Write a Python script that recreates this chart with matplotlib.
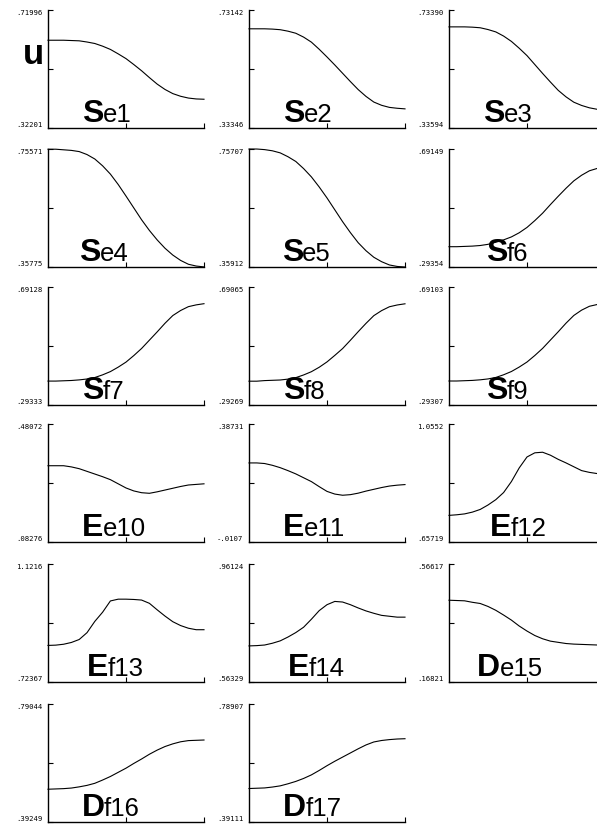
"""Seventeen small u-response panels laid out 3 across, as in the scanned figure."""

import matplotlib
matplotlib.use("Agg")  # headless
import matplotlib.pyplot as plt

# ------------------------------------------------------------------
# Data
# ------------------------------------------------------------------
x = [0.0, 0.05, 0.1, 0.15, 0.2, 0.25, 0.3, 0.35, 0.4, 0.45, 0.5,
     0.55, 0.6, 0.65, 0.7, 0.75, 0.8, 0.85, 0.9, 0.95, 1.0]

se1 = [0.618, 0.618, 0.618, 0.617, 0.616, 0.612, 0.607, 0.598, 0.587, 0.572, 0.556,
       0.536, 0.515, 0.492, 0.470, 0.452, 0.438, 0.429, 0.423, 0.420, 0.419]
se2 = [0.668, 0.668, 0.668, 0.667, 0.665, 0.660, 0.653, 0.640, 0.623, 0.599, 0.573,
       0.546, 0.518, 0.490, 0.463, 0.440, 0.421, 0.410, 0.403, 0.400, 0.398]
se3 = [0.677, 0.677, 0.677, 0.676, 0.674, 0.668, 0.660, 0.646, 0.628, 0.605, 0.580,
       0.550, 0.520, 0.491, 0.463, 0.441, 0.423, 0.412, 0.404, 0.399, 0.396]
se4 = [0.755, 0.755, 0.753, 0.751, 0.747, 0.737, 0.722, 0.699, 0.671, 0.636, 0.597,
       0.557, 0.517, 0.481, 0.449, 0.421, 0.398, 0.380, 0.367, 0.361, 0.358]
se5 = [0.757, 0.757, 0.755, 0.751, 0.744, 0.731, 0.715, 0.691, 0.663, 0.629, 0.592,
       0.552, 0.512, 0.475, 0.441, 0.414, 0.392, 0.377, 0.366, 0.361, 0.359]
sf6 = [0.362, 0.362, 0.363, 0.364, 0.366, 0.370, 0.377, 0.385, 0.395, 0.409, 0.427,
       0.450, 0.475, 0.504, 0.532, 0.559, 0.584, 0.603, 0.618, 0.626, 0.629]
sf7 = [0.374, 0.374, 0.375, 0.376, 0.378, 0.381, 0.386, 0.395, 0.406, 0.421, 0.438,
       0.460, 0.484, 0.512, 0.540, 0.569, 0.595, 0.612, 0.625, 0.631, 0.635]
sf8 = [0.373, 0.373, 0.375, 0.376, 0.377, 0.380, 0.385, 0.394, 0.405, 0.420, 0.438,
       0.460, 0.483, 0.511, 0.540, 0.568, 0.594, 0.611, 0.624, 0.630, 0.634]
sf9 = [0.374, 0.374, 0.375, 0.376, 0.378, 0.381, 0.386, 0.395, 0.406, 0.421, 0.438,
       0.460, 0.484, 0.512, 0.540, 0.569, 0.595, 0.613, 0.626, 0.632, 0.636]
ee10 = [0.340, 0.340, 0.340, 0.336, 0.330, 0.321, 0.312, 0.303, 0.293, 0.279, 0.265,
        0.255, 0.249, 0.247, 0.252, 0.258, 0.264, 0.270, 0.275, 0.277, 0.279]
ee11 = [0.256, 0.256, 0.254, 0.248, 0.240, 0.230, 0.219, 0.206, 0.193, 0.176, 0.160,
        0.151, 0.147, 0.149, 0.154, 0.161, 0.167, 0.173, 0.178, 0.181, 0.183]
ef12 = [0.747, 0.749, 0.752, 0.758, 0.767, 0.782, 0.800, 0.824, 0.861, 0.907, 0.944,
        0.958, 0.960, 0.950, 0.936, 0.924, 0.911, 0.898, 0.892, 0.888, 0.887]
ef13 = [0.847, 0.848, 0.851, 0.857, 0.867, 0.890, 0.928, 0.959, 0.997, 1.003, 1.003,
        1.002, 1.000, 0.989, 0.967, 0.946, 0.927, 0.914, 0.905, 0.900, 0.900]
ef14 = [0.685, 0.686, 0.688, 0.694, 0.702, 0.715, 0.730, 0.748, 0.775, 0.804, 0.824,
        0.835, 0.833, 0.824, 0.813, 0.803, 0.795, 0.788, 0.785, 0.782, 0.782]
de15 = [0.444, 0.443, 0.442, 0.437, 0.433, 0.423, 0.410, 0.394, 0.377, 0.357, 0.340,
        0.325, 0.314, 0.306, 0.302, 0.298, 0.296, 0.295, 0.294, 0.293, 0.293]
df16 = [0.503, 0.504, 0.505, 0.507, 0.511, 0.516, 0.523, 0.534, 0.546, 0.560, 0.574,
        0.590, 0.605, 0.621, 0.635, 0.647, 0.656, 0.663, 0.667, 0.668, 0.669]
df17 = [0.504, 0.505, 0.506, 0.509, 0.513, 0.520, 0.528, 0.538, 0.550, 0.565, 0.581,
        0.596, 0.610, 0.624, 0.638, 0.651, 0.661, 0.666, 0.669, 0.671, 0.672]

curves = [se1, se2, se3, se4, se5, sf6, sf7, sf8, sf9,
          ee10, ee11, ef12, ef13, ef14, de15, df16, df17]

top_labels = [".71996", ".73142", ".73390", ".75571", ".75707", ".69149",
              ".69128", ".69065", ".69103", ".48072", ".38731", "1.0552",
              "1.1216", ".96124", ".56617", ".79044", ".78907"]
bottom_labels = [".32201", ".33346", ".33594", ".35775", ".35912", ".29354",
                 ".29333", ".29269", ".29307", ".08276", "-.0107", ".65719",
                 ".72367", ".56329", ".16821", ".39249", ".39111"]

capitals = ["S"] * 9 + ["E"] * 5 + ["D"] * 3
suffixes = ["e1", "e2", "e3", "e4", "e5", "f6", "f7", "f8", "f9",
            "e10", "e11", "f12", "f13", "f14", "e15", "f16", "f17"]

# ------------------------------------------------------------------
# Layout, in pixels of the 597x825 output
# ------------------------------------------------------------------
W, H = 597, 825
col_left = [48, 249, 449]
row_top = [10, 149, 287, 424, 564, 704]
pw, ph = 156, 118
label_x = [0.22, 0.22, 0.22, 0.20, 0.21, 0.24, 0.22, 0.22, 0.24,
           0.22, 0.22, 0.26, 0.25, 0.25, 0.18, 0.215, 0.22]
FONT = "Liberation Sans"

fig = plt.figure(figsize=(W / 100, H / 100), dpi=100)

axes, caps = [], []
for i, y in enumerate(curves):
    r, c = divmod(i, 3)
    ax = fig.add_axes([col_left[c] / W, 1 - (row_top[r] + ph) / H, pw / W, ph / H])
    lo, hi = float(bottom_labels[i]), float(top_labels[i])

    ax.plot(x, y, color="black", lw=0.8, clip_on=False)
    ax.set_xlim(0, 1)
    ax.set_ylim(lo, hi)

    ax.spines[["top", "right"]].set_visible(False)
    ax.spines[["left", "bottom"]].set_linewidth(1.0)
    ax.set_xticks([0.5, 1.0], labels=[])
    ax.set_yticks([lo, (lo + hi) / 2, hi],
                  labels=[bottom_labels[i], "", top_labels[i]])
    ax.tick_params(direction="in", length=3.5, width=0.8, pad=4,
                   labelsize=5.2, labelfontfamily="DejaVu Sans Mono")
    yt = ax.yaxis.get_major_ticks()
    yt[0].label1.set_va("bottom")
    yt[2].label1.set_va("top")

    cap = ax.text(label_x[i], 0.05, capitals[i], transform=ax.transAxes,
                  fontsize=23, fontweight="bold", family=FONT,
                  ha="left", va="baseline")
    axes.append(ax)
    caps.append(cap)

# put the smaller part of each panel name right after its capital, same baseline
fig.canvas.draw()
for ax, cap, suf in zip(axes, caps, suffixes):
    bb = cap.get_window_extent()
    xa = ax.transAxes.inverted().transform((bb.x1, bb.y0))[0]
    ax.text(xa - 0.005, 0.05, suf, transform=ax.transAxes, fontsize=18.5,
            family=FONT, ha="left", va="baseline")

fig.text(33 / W, 1 - 55 / H, "u", fontsize=25, fontweight="bold",
         family=FONT, ha="center", va="center")

fig.savefig("out.png", dpi=100)
